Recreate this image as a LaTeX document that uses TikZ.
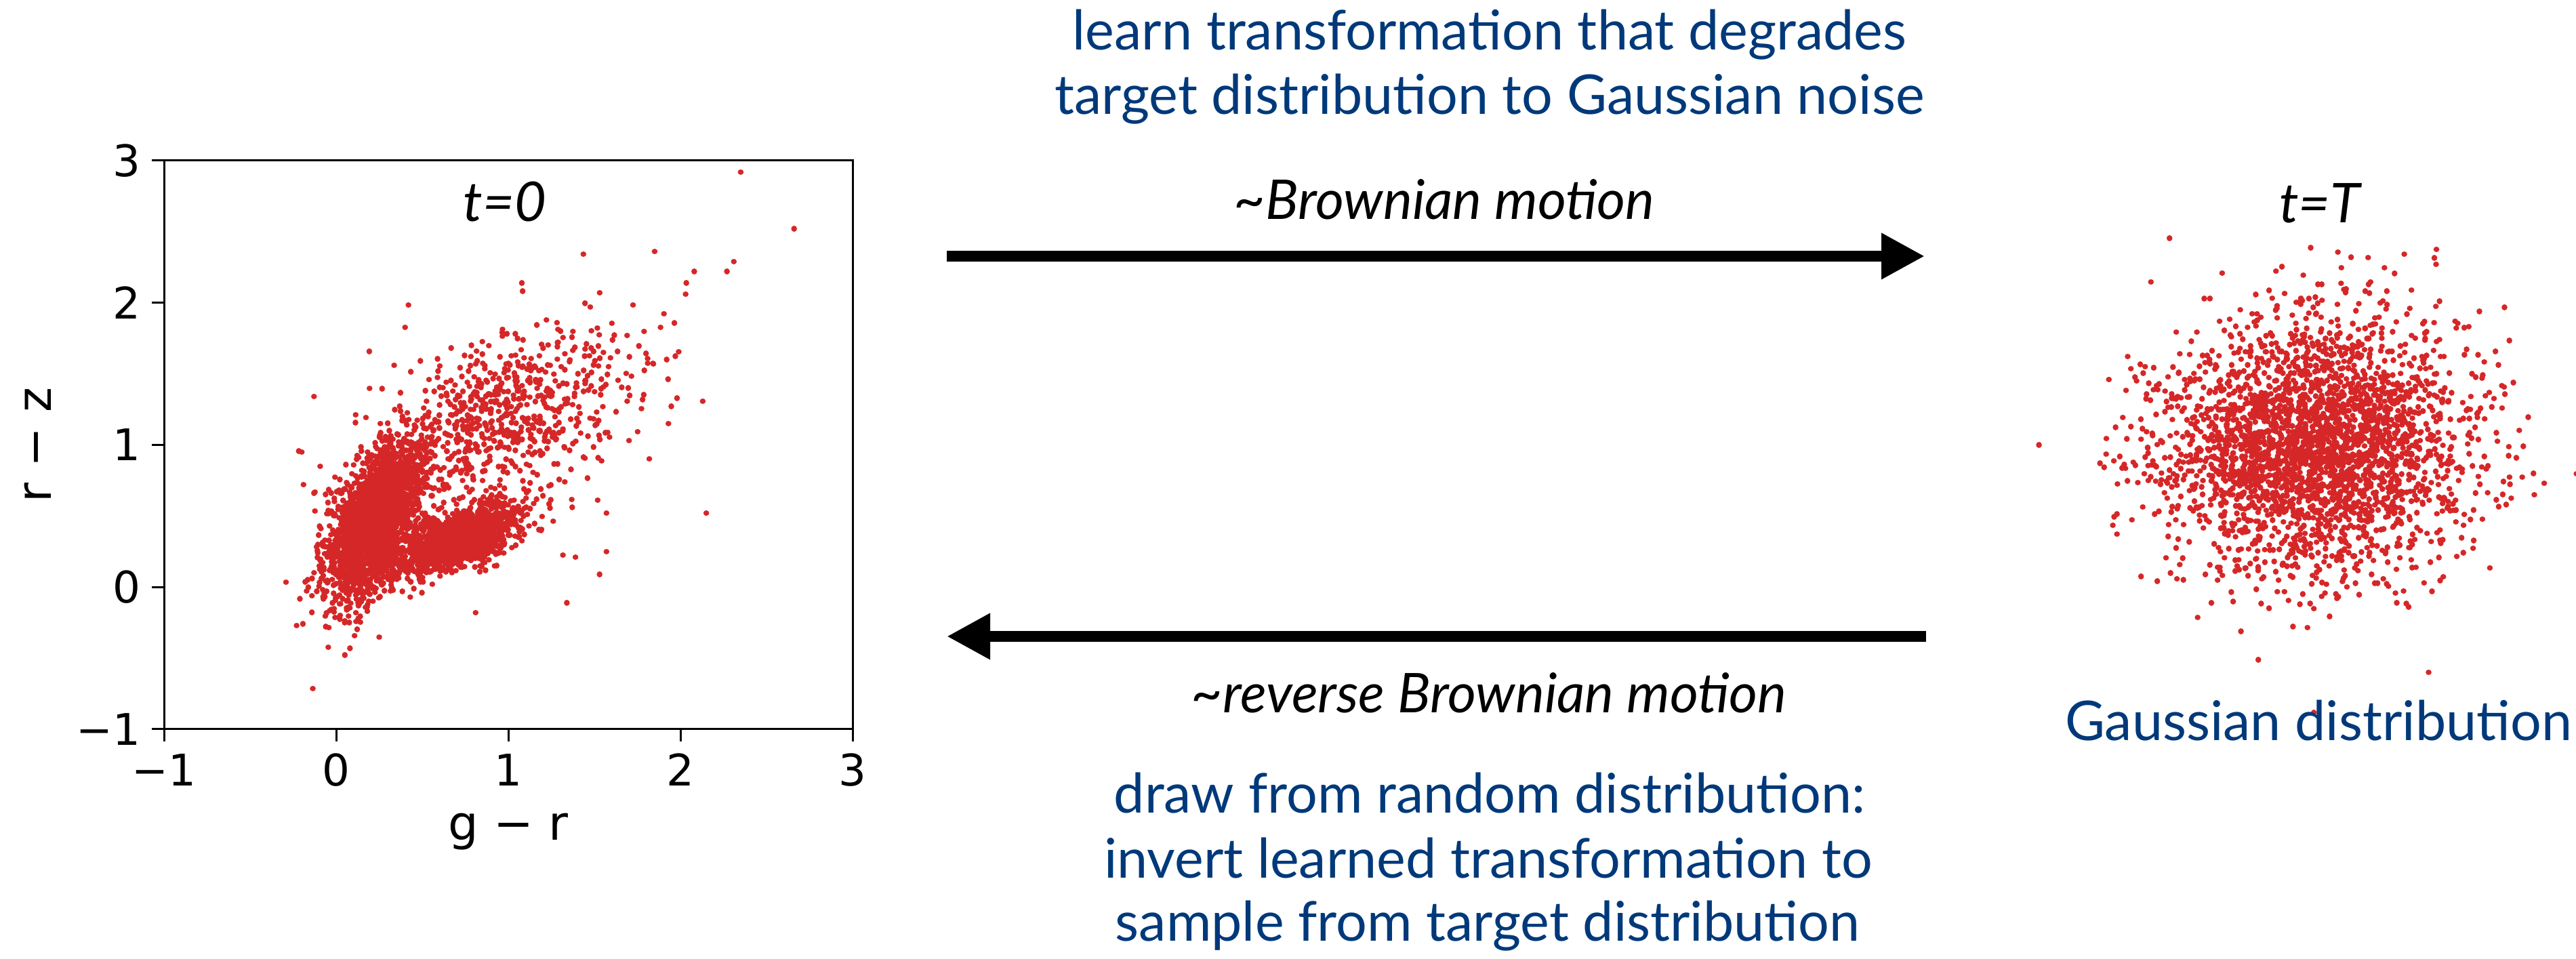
\documentclass[tikz,border=0pt]{standalone}
\usepackage{fontspec}
\setmainfont{Lato}
\newfontfamily\tickfont{DejaVu Sans}
\usepackage{tikz}
\usetikzlibrary{arrows.meta,positioning}
\usepackage{xcolor}
\definecolor{navytext}{RGB}{0,57,122}
\definecolor{dotred}{RGB}{214,39,40}
\tikzset{
	axisline/.style={line width=0.03cm, line cap=rect},
	dots/.style={draw=dotred, line width=0.085cm, line cap=round},
	ticklabel/.style={font=\tickfont\fontsize{18.3}{20}\selectfont, inner sep=0pt},
	axislabel/.style={font=\tickfont\fontsize{20}{22}\selectfont, inner sep=0pt},
	bluetext/.style={font=\fontsize{23}{27}\selectfont, text=navytext, inner sep=0pt, anchor=base},
	slanttext/.style={font=\fontsize{23}{27}\selectfont\itshape, inner sep=0pt, anchor=base},
	bigarrow/.style={line width=0.16cm, -{Triangle[length=0.64cm,width=0.64cm]}},
}
% unit normal deviate (Box-Muller, cosine half)
\newcommand{\gdev}{sqrt(-2*ln(max(rnd,0.0001)))*cos(360*rnd)}
\begin{document}
\begin{tikzpicture}[x=1cm, y=1cm] % {{{
	\useasboundingbox (0,0) rectangle (38.01,14.15);
	\pgfmathsetseed{4711}
	\begin{scope}[shift={(4.96,5.4875)}, x=2.54cm, y=2.0975cm] % t=0 colour plot {{{
		% blue cloud, red blob, tail
		\foreach \nk/\cx/\cy/\dx/\dy/\sa/\sb in {9/0.22/0.47/0.330/0.944/0.29/0.110,
		                                         6/0.70/0.33/0.894/0.447/0.21/0.085,
		                                         3/0.95/1.17/0.780/0.620/0.45/0.270} {
			\begin{scope}[shift={(\cx,\cy)}, x={({\sa*\dx*2.54cm},{\sa*\dy*2.0975cm})}, y={({-\sb*\dy*2.54cm},{\sb*\dx*2.0975cm})}]
				\foreach \k in {1,...,\nk}
					\draw[dots] foreach \i in {1,...,250} { ({\gdev},{\gdev}) -- ++(0.001cm,0) };
			\end{scope}
		}
		% outliers
		\draw[dots] foreach \px/\py in {2.35/2.92, 2.66/2.52, 2.15/0.52, 1.85/2.36, 2.31/2.29, 2.27/2.22,
		                     1.53/0.09, 1.57/0.25, 1.57/0.52, 1.39/0.21, 1.34/-0.11, 0.81/-0.18,
		                     0.08/-0.43, -0.23/-0.27, -0.20/0.95, -0.19/0.72, 1.93/1.15,
		                     1.98/1.33, 1.92/1.60, 2.03/2.06, 2.08/2.22} { (\px,\py) -- ++(0.001cm,0) };
		\draw[axisline] (-1,-1) rectangle (3,3);
		\foreach \t/\lab in {-1/−1,0/0,1/1,2/2,3/3} {
			\draw[axisline] (\t,-1) -- ++(0,-0.17cm);
			\draw[axisline] (-1,\t) -- ++(-0.17cm,0);
			\node[ticklabel, anchor=base] (xtick\t) at ([yshift=-0.84cm]\t,-1) {\lab};
			\node[ticklabel, anchor=east] (ytick\t) at ([xshift=-0.34cm]-1,\t) {\lab};
		}
		\node[axislabel, anchor=base] (xlab) at ([yshift=-1.64cm]1,-1) {g − r};
		\node[axislabel, anchor=base, rotate=90] (ylab) at ([xshift=-1.67cm]-1,1) {r − z};
		\node[slanttext] (tzero) at ([yshift=-0.90cm]0.98,3) {t=0};
	\end{scope} % }}}
	\begin{scope}[shift={(34.14,7.56)}, x=1.12cm, y=0.92cm] % t=T Gaussian {{{
		\foreach \k in {1,...,12}
			\draw[dots] foreach \i in {1,...,250} { ({\gdev},{\gdev}) -- ++(0.001cm,0) };
	\end{scope}
	\node[slanttext] (tend) at (34.23,10.86) {t=T};
	\node[bluetext] (gauss) at (34.21,3.22) {Gaussian distribution};
	% }}}
	% arrows and captions {{{
	\coordinate (fwdstart) at (13.97,10.37);
	\coordinate (fwdend) at (28.40,10.37);
	\coordinate (revstart) at (28.42,4.76);
	\coordinate (revend) at (13.97,4.76);
	\draw[bigarrow] (fwdstart) -- (fwdend);
	\draw[bigarrow] (revstart) -- (revend);
	\node[bluetext] (learnA) at (21.98,13.41) {learn transformation that degrades};
	\node[bluetext] (learnB) at (21.98,12.46) {target distribution to Gaussian noise};
	\node[slanttext] (fwdlab) at (21.31,10.91) {\textasciitilde Brownian motion};
	\node[slanttext] (revlab) at (21.97,3.63) {\textasciitilde reverse Brownian motion};
	\node[bluetext] (drawA) at (21.98,2.15) {draw from random distribution:};
	\node[bluetext] (drawB) at (21.96,1.19) {invert learned transformation to};
	\node[bluetext] (drawC) at (21.95,0.26) {sample from target distribution};
	% }}}
\end{tikzpicture} % }}}
\end{document}
